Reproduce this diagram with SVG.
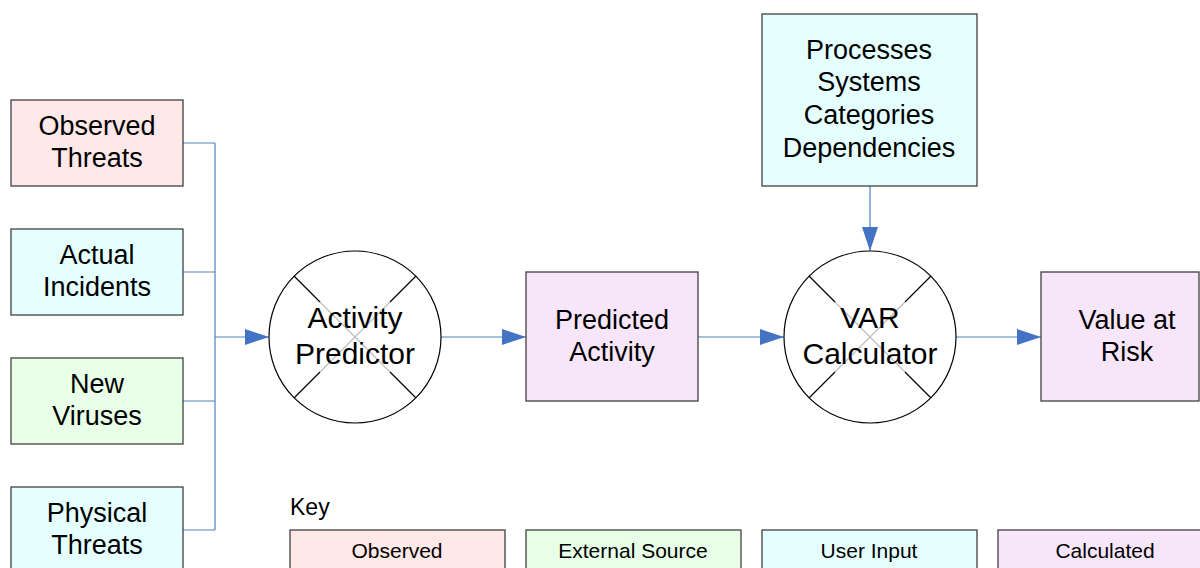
<svg xmlns="http://www.w3.org/2000/svg" width="1200" height="568" viewBox="0 0 1200 568">
  <style>
    .box { stroke: #404040; stroke-width: 1.3; }
    .observed { fill: #FFE8E8; }
    .user { fill: #E5FFFF; }
    .external { fill: #E8FFE8; }
    .calc { fill: #F7E6FA; }
    .proc { fill: #FFFFFF; stroke: #000000; stroke-width: 1.2; }
    .xin { stroke: #BDBDBD; stroke-width: 1.2; }
    .xout { stroke: #000000; stroke-width: 1.2; }
    .label { font-family: "Liberation Sans", Arial, sans-serif; font-size: 27px; fill: #000; text-anchor: middle; }
    .big { font-size: 30px; }
    .key { font-size: 21px; }
    .wire { fill: none; stroke: #4F81BD; stroke-width: 1.2; }
  </style>
  <defs>
    <marker id="arrow" markerUnits="userSpaceOnUse" markerWidth="24" markerHeight="16" refX="24" refY="8" orient="auto">
      <path d="M0,0 L24,8 L0,16 Z" fill="#4472C4"/>
    </marker>
  </defs>
  <rect width="1200" height="568" fill="#FFFFFF"/>

  <!-- connectors -->
  <g id="connectors">
    <path class="wire" d="M183,143 H215 M183,272 H215 M183,401 H215 M183,530 H215 M215,143 V530"/>
    <line class="wire" x1="215" y1="337" x2="269" y2="337" marker-end="url(#arrow)"/>
    <line class="wire" x1="441" y1="337" x2="526" y2="337" marker-end="url(#arrow)"/>
    <line class="wire" x1="698" y1="337" x2="784" y2="337" marker-end="url(#arrow)"/>
    <line class="wire" x1="956" y1="337" x2="1041" y2="337" marker-end="url(#arrow)"/>
    <line class="wire" x1="870" y1="186" x2="870" y2="251" marker-end="url(#arrow)"/>
  </g>

  <!-- input sources -->
  <g id="observed-threats">
    <rect class="box observed" x="11" y="100" width="172" height="86"/>
    <text class="label" x="97" y="135">Observed</text>
    <text class="label" x="97" y="167">Threats</text>
  </g>
  <g id="actual-incidents">
    <rect class="box user" x="11" y="229" width="172" height="86"/>
    <text class="label" x="97" y="264">Actual</text>
    <text class="label" x="97" y="296">Incidents</text>
  </g>
  <g id="new-viruses">
    <rect class="box external" x="11" y="358" width="172" height="86"/>
    <text class="label" x="97" y="393">New</text>
    <text class="label" x="97" y="425">Viruses</text>
  </g>
  <g id="physical-threats">
    <rect class="box user" x="11" y="487" width="172" height="90"/>
    <text class="label" x="97" y="522">Physical</text>
    <text class="label" x="97" y="554">Threats</text>
  </g>

  <!-- processes -->
  <g id="activity-predictor">
    <circle class="proc" cx="355" cy="337" r="86"/>
    <path class="xin" d="M320,302 L390,372 M390,302 L320,372"/>
    <path class="xout" d="M294,276 L320,302 M416,276 L390,302 M294,398 L320,372 M416,398 L390,372"/>
    <text class="label big" x="355" y="328">Activity</text>
    <text class="label big" x="355" y="364">Predictor</text>
  </g>
  <g id="predicted-activity">
    <rect class="box calc" x="526" y="272" width="172" height="129"/>
    <text class="label" x="612" y="329">Predicted</text>
    <text class="label" x="612" y="361">Activity</text>
  </g>
  <g id="var-inputs">
    <rect class="box user" x="762" y="14" width="215" height="172"/>
    <text class="label" x="869" y="59">Processes</text>
    <text class="label" x="869" y="91">Systems</text>
    <text class="label" x="869" y="124">Categories</text>
    <text class="label" x="869" y="157">Dependencies</text>
  </g>
  <g id="var-calculator">
    <circle class="proc" cx="870" cy="337" r="86"/>
    <path class="xin" d="M835,302 L905,372 M905,302 L835,372"/>
    <path class="xout" d="M809,276 L835,302 M931,276 L905,302 M809,398 L835,372 M931,398 L905,372"/>
    <text class="label big" x="870" y="328">VAR</text>
    <text class="label big" x="870" y="364">Calculator</text>
  </g>
  <g id="value-at-risk">
    <rect class="box calc" x="1041" y="272" width="158" height="129"/>
    <text class="label" x="1127" y="329">Value at</text>
    <text class="label" x="1127" y="361">Risk</text>
  </g>

  <!-- legend -->
  <g id="key">
    <text class="label" x="290" y="515" style="text-anchor:start;font-size:23px">Key</text>
    <rect class="box observed" x="290" y="530" width="215" height="45"/>
    <text class="label key" x="397" y="558">Observed</text>
    <rect class="box external" x="526" y="530" width="215" height="45"/>
    <text class="label key" x="633" y="558">External Source</text>
    <rect class="box user" x="762" y="530" width="215" height="45"/>
    <text class="label key" x="869" y="558">User Input</text>
    <rect class="box calc" x="998" y="530" width="215" height="45"/>
    <text class="label key" x="1105" y="558">Calculated</text>
  </g>
</svg>
